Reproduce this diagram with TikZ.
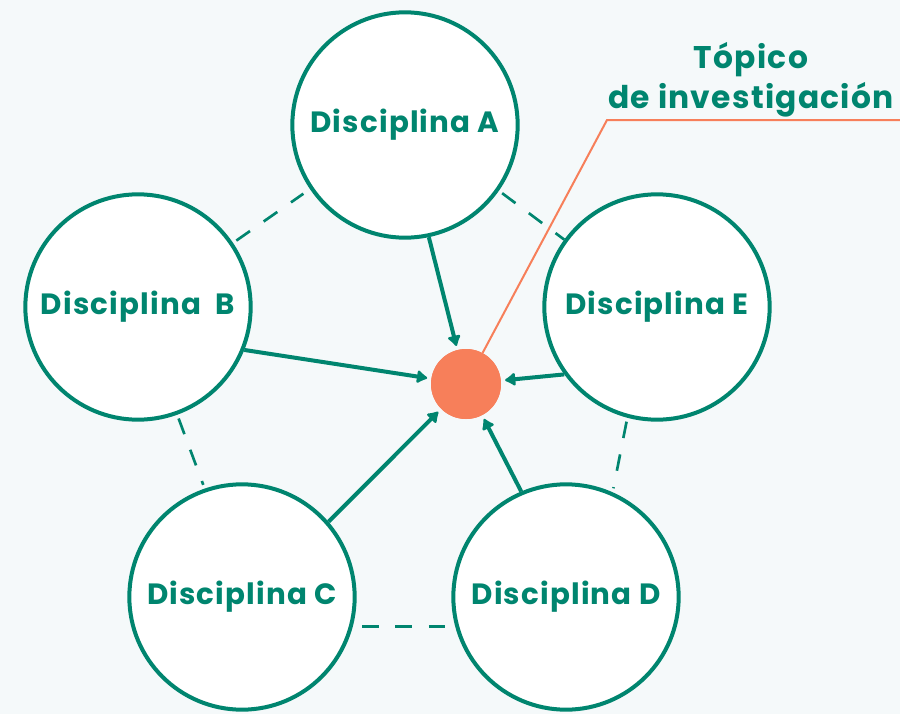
\documentclass[tikz,border=0pt]{standalone}
\usepackage{fontspec}
\setmainfont{Poppins}[LetterSpace=4]
\usetikzlibrary{arrows.meta}
\definecolor{tealc}{RGB}{0,133,111}
\definecolor{orangec}{RGB}{247,127,90}
\definecolor{bgc}{RGB}{245,249,250}
\tikzset{
  disc/.style={circle, draw=tealc, fill=white, line width=3pt, minimum size=169pt, inner sep=0pt,
    text=tealc, font=\bfseries\fontsize{22}{24}\selectfont},
  topicdot/.style={circle, fill=orangec, minimum size=52.5pt, inner sep=0pt},
  toarrow/.style={draw=tealc, line width=3pt, -{Latex[length=9pt,width=12pt,round]}, shorten >=3pt},
  dashlink/.style={draw=tealc, line width=2pt, dash pattern=on 12.5pt off 12.5pt},
  pointer/.style={draw=orangec, line width=1.5pt},
  topiclabel/.style={text=tealc, align=center, font=\bfseries\fontsize{23.5}{30}\selectfont}
}
\begin{document}
\begin{tikzpicture}[x=0.75pt,y=-0.75pt]
\fill[bgc] (0,0) rectangle (900,714);
\useasboundingbox (0,0) rectangle (900,714);
% dot and pointer
\node[topicdot] (dot) at (466,384) {};
\coordinate (corner) at (607,120);
\coordinate (lineend) at (900,120);
\draw[pointer] (dot) -- (corner) -- (lineend);
\node[topicdot] at (466,384) {};
% circles
\node[disc] (A) at (405,125) {Disciplina A};
\node[disc] (B) at (138,307) {Disciplina\ \ B};
\node[disc] (E) at (657,307) {Disciplina E};
\node[disc] (C) at (242,597) {Disciplina C};
\node[disc] (D) at (566,597) {Disciplina D};
% dashed links
\draw[dashlink, shorten <=3pt, shorten >=6pt] (B.34.4) -- (A.214.4);
\draw[dashlink, shorten <=3pt] (A.-35.8) -- (E.144.2);
\draw[dashlink, shorten <=3pt, shorten >=3pt] (B.-70.3) -- (C.109.7);
\draw[dashlink, shorten <=3pt, shorten >=3pt] (E.255.6) -- (D.66.7);
\draw[dashlink, shorten <=7pt, shorten >=7pt] (C.-15.6) -- (D.195.6);
% arrows
\draw[toarrow] (A.-78.4) -- (dot);
\draw[toarrow] (B.-22.3) -- (dot);
\draw[toarrow] (E.216.5) -- (dot);
\draw[toarrow] (C.41.4) -- (dot);
\draw[toarrow] (D.113.2) -- (dot);
% label
\node[topiclabel] (topic) at (751,80) {Tópico\\de investigación};
\end{tikzpicture}
\end{document}
